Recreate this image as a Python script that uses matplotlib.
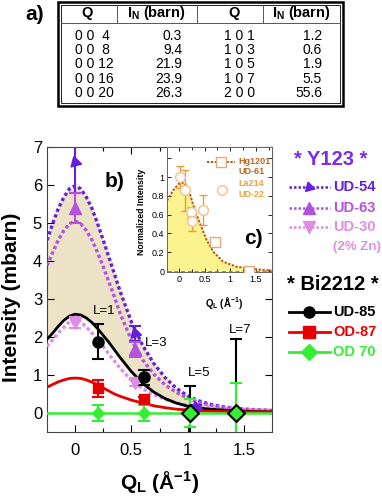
import numpy as np
import matplotlib
matplotlib.use('Agg')
import matplotlib.pyplot as plt
from matplotlib.patches import Rectangle
from matplotlib.lines import Line2D

plt.rcParams['font.family'] = ['Liberation Sans', 'DejaVu Sans']
plt.rcParams['mathtext.fontset'] = 'custom'
plt.rcParams['mathtext.rm'] = 'Liberation Sans'
plt.rcParams['mathtext.bf'] = 'Liberation Sans:bold'
plt.rcParams['mathtext.it'] = 'Liberation Sans:italic'

W, H = 382, 496  # figure size in pixels


def fx(x):
    return x / W


def fy(y):
    return 1 - y / H


# ---- table a) ----
tab_q1 = ['0 0  4', '0 0  8', '0 0 12', '0 0 16', '0 0 20']
tab_i1 = ['0.3', '9.4', '21.9', '23.9', '26.3']
tab_q2 = ['1 0 1', '1 0 3', '1 0 5', '1 0 7', '2 0 0']
tab_i2 = ['1.2', '0.6', '1.9', '5.5', '55.6']

# ---- main panel b): fitted curves ----
q_fit = [-0.25, -0.2, -0.15, -0.1, -0.05, 0.0, 0.05, 0.1, 0.15, 0.2, 0.25, 0.3, 0.35, 0.4,
         0.5, 0.6, 0.7, 0.8, 0.9, 1.0, 1.1, 1.2, 1.3, 1.4, 1.5, 1.6, 1.75]
ud54_fit = [4.55, 4.98, 5.38, 5.68, 5.9, 5.98, 5.9, 5.68, 5.38, 4.98, 4.55, 4.1, 3.65, 3.2,
            2.4, 1.78, 1.3, 0.93, 0.65, 0.45, 0.32, 0.23, 0.17, 0.13, 0.1, 0.08, 0.06]
ud63_fit = [3.88, 4.22, 4.55, 4.8, 4.98, 5.05, 4.98, 4.8, 4.55, 4.22, 3.85, 3.45, 3.05, 2.62,
            1.92, 1.4, 1.02, 0.74, 0.54, 0.39, 0.28, 0.21, 0.16, 0.13, 0.1, 0.09, 0.07]
ud30_fit = [1.75, 1.93, 2.1, 2.26, 2.4, 2.45, 2.4, 2.26, 2.1, 1.93, 1.75, 1.55, 1.36, 1.18,
            0.86, 0.64, 0.48, 0.36, 0.27, 0.2, 0.16, 0.13, 0.11, 0.1, 0.09, 0.08, 0.07]
ud85_fit = [1.94, 2.1, 2.28, 2.44, 2.55, 2.6, 2.58, 2.5, 2.38, 2.22, 2.04, 1.86, 1.66, 1.46,
            1.09, 0.78, 0.55, 0.38, 0.26, 0.18, 0.13, 0.1, 0.08, 0.06, 0.05, 0.04, 0.03]
od87_fit = [0.68, 0.75, 0.82, 0.87, 0.91, 0.92, 0.91, 0.87, 0.81, 0.74, 0.66, 0.58, 0.5, 0.44,
            0.34, 0.26, 0.19, 0.14, 0.1, 0.08, 0.06, 0.05, 0.04, 0.04, 0.03, 0.03, 0.03]
od70_fit_q = [-0.25, 1.75]
od70_fit = [0.0, 0.0]

# ---- main panel b): data points ----
ud54_q = [0.0, 0.53, 1.07]
ud54_i = [6.6, 2.1, 0.17]
ud54_e = [0.8, 0.2, 0.05]
ud63_q = [0.0, 0.53]
ud63_i = [5.4, 1.68]
ud63_e = [0.4, 0.2]
ud30_q = [0.0, 0.53]
ud30_i = [2.38, 0.8]
ud30_e = [0.14, 0.1]
ud85_q = [0.2, 0.61, 1.02, 1.43]
ud85_i = [1.88, 0.94, 0.0, 0.0]
ud85_e = [0.46, 0.2, 0.7, 1.95]
od87_q = [0.2, 0.61]
od87_i = [0.65, 0.36]
od87_e = [0.22, 0.07]
od70_q = [0.2, 0.61, 1.02, 1.43]
od70_i = [0.0, 0.0, 0.0, 0.0]
od70_e = [0.22, 0.2, 0.38, 0.78]
l_labels = ['L=1', 'L=3', 'L=5', 'L=7']
l_label_q = [0.26, 0.72, 1.1, 1.47]
l_label_i = [2.68, 1.85, 1.05, 2.18]

# ---- inset c) ----
hg_fit_q = [-0.23, -0.11, 0.0, 0.06, 0.12, 0.21, 0.31, 0.41, 0.54, 0.67, 0.86, 1.12, 1.51, 1.8]
hg_fit = [0.75, 0.86, 0.93, 0.94, 0.93, 0.83, 0.65, 0.51, 0.33, 0.205, 0.1, 0.046, 0.018, 0.005]
hg_q = [0.7, 1.36]
hg_i = [0.31, 0.0]
la_q = [0.02, 0.12, 0.23, 0.25, 0.46]
la_i = [1.0, 0.86, 0.63, 0.53, 0.65]
la_e = [0.12, 0.22, 0.05, 0.1, 0.16]

c54 = '#6420dc'
c63 = '#b452e0'
c30 = '#e08ce4'
cred = '#e80000'
cgreen = '#33ee33'
dot = (0, (1, 0.8))

fig = plt.figure(figsize=(W / 100, H / 100), dpi=100)

# table
fig.add_artist(Rectangle((fx(58), fy(106)), fx(343) - fx(58), fy(2) - fy(106),
                         transform=fig.transFigure, fill=False, lw=1.8, color='black'))
fig.add_artist(Rectangle((fx(61), fy(103)), fx(340) - fx(61), fy(5) - fy(103),
                         transform=fig.transFigure, fill=False, lw=0.6, color='black'))
fig.add_artist(Line2D([fx(61), fx(340)], [fy(23), fy(23)], transform=fig.transFigure,
                      lw=0.7, color='#555555'))
for xv in [117, 197, 263]:
    fig.add_artist(Line2D([fx(xv), fx(xv)], [fy(5), fy(23)], transform=fig.transFigure,
                          lw=0.7, color='#555555'))
hdr = dict(fontsize=10.5, fontweight='bold', ha='center', va='center')
fig.text(fx(87), fy(13), 'Q', **hdr)
fig.text(fx(156), fy(13), r'I$_\mathbf{N}$ (barn)', **hdr)
fig.text(fx(234), fy(13), 'Q', **hdr)
fig.text(fx(301), fy(13), r'I$_\mathbf{N}$ (barn)', **hdr)
row_y = [36, 50, 64, 79, 93]
for k in range(5):
    fig.text(fx(75), fy(row_y[k]), tab_q1[k], fontsize=10, va='center', ha='left')
    fig.text(fx(182), fy(row_y[k]), tab_i1[k], fontsize=10, va='center', ha='right')
    fig.text(fx(224), fy(row_y[k]), tab_q2[k], fontsize=10, va='center', ha='left')
    fig.text(fx(322), fy(row_y[k]), tab_i2[k], fontsize=10, va='center', ha='right')
fig.text(fx(35), fy(15), 'a)', fontsize=15, fontweight='bold', ha='center', va='center')

# main panel
ax = fig.add_axes([fx(47), fy(432), fx(272) - fx(47), fy(147) - fy(432)])
ax.fill_between(q_fit, ud54_fit, ud85_fit, color='#ece3c6', lw=0, zorder=1)
ax.plot(q_fit, ud54_fit, color=c54, lw=2.4, ls=dot, zorder=3)
ax.plot(q_fit, ud63_fit, color=c63, lw=2.4, ls=dot, zorder=3)
ax.plot(q_fit, ud30_fit, color=c30, lw=2.4, ls=dot, zorder=3)
ax.plot(q_fit, ud85_fit, color='black', lw=2, zorder=3)
ax.plot(q_fit, od87_fit, color=cred, lw=2, zorder=3)
ax.plot(od70_fit_q, od70_fit, color=cgreen, lw=1.8, zorder=3)

eb = dict(fmt='none', elinewidth=1.5, capsize=4, capthick=1.5, zorder=4)
ax.errorbar(ud54_q, ud54_i, yerr=ud54_e, ecolor=c54, **eb)
ax.errorbar(ud63_q, ud63_i, yerr=ud63_e, ecolor=c63, **eb)
ax.errorbar(ud30_q, ud30_i, yerr=ud30_e, ecolor=c30, **eb)
ax.errorbar(ud85_q, ud85_i, yerr=ud85_e, ecolor='black', **eb)
ax.errorbar(od87_q, od87_i, yerr=od87_e, ecolor=cred, **eb)
ax.errorbar(od70_q, od70_i, yerr=od70_e, ecolor=cgreen, **eb)

flag = (3, 0, -105)
ax.plot(ud54_q, ud54_i, ls='none', marker=flag, ms=9, color=c54, zorder=5)
ax.plot(ud63_q, ud63_i, ls='none', marker='^', ms=8, color=c63, zorder=5)
ax.plot(ud30_q, ud30_i, ls='none', marker='v', ms=8, color=c30, zorder=5)
ax.plot(ud85_q[:2], ud85_i[:2], ls='none', marker='o', ms=8, color='black', zorder=5)
ax.plot(ud85_q[2:], ud85_i[2:], ls='none', marker='D', ms=9, color='black', zorder=5)
ax.plot(od87_q, od87_i, ls='none', marker='s', ms=7, color=cred, zorder=5)
ax.plot(od70_q, od70_i, ls='none', marker='D', ms=6.5, color=cgreen, zorder=6)

for lab, lq, li in zip(l_labels, l_label_q, l_label_i):
    ax.text(lq, li, lab, fontsize=9.5, ha='center', va='center', zorder=7)
ax.text(0.35, 6.08, 'b)', fontsize=15, fontweight='bold', ha='center', va='center')

ax.set_xlim(-0.25, 1.75)
ax.set_ylim(-0.5, 7)
ax.set_xticks([0, 0.5, 1, 1.5])
ax.set_xticklabels(['0', '0.5', '1', '1.5'])
ax.set_xticks([0.25, 0.75, 1.25], minor=True)
ax.set_yticks(range(8))
ax.tick_params(direction='in', top=True, right=True, length=5, width=0.8, labelsize=12)
ax.tick_params(axis='x', which='major', pad=8)
ax.tick_params(which='minor', direction='in', top=True, length=3, width=0.8)
for s in ax.spines.values():
    s.set_linewidth(0.8)
    s.set_color('#444444')
fig.text(fx(12), fy(297), 'Intensity (mbarn)', rotation=90, fontsize=15,
         fontweight='bold', ha='center', va='center')
fig.text(fx(160), fy(482), r'Q$_\mathbf{L}$ (Å$^\mathbf{-1}$)', fontsize=15,
         fontweight='bold', ha='center', va='center')

# inset
axin = fig.add_axes([fx(167), fy(272), fx(272) - fx(167), fy(147) - fy(272)])
axin.fill_between(hg_fit_q, hg_fit, 0, color='#fdf38e', lw=0, zorder=1)
axin.axhline(0, color='#888888', lw=0.7, ls=(0, (4, 3)), zorder=2)
axin.plot(hg_fit_q, hg_fit, color='#b5560f', lw=1.4, ls=(0, (1.2, 0.8)), zorder=3)
axin.plot(hg_q, hg_i, ls='none', marker='s', ms=7, mfc='white', mec='#e4aa7a', mew=1, zorder=4)
axin.errorbar(la_q, la_i, yerr=la_e, fmt='none', ecolor='#ec9a40', elinewidth=1,
              capsize=3, capthick=1, zorder=4)
axin.plot(la_q, la_i, ls='none', marker='o', ms=7, mfc='white', mec='#f5c090', mew=1, zorder=5)
axin.set_xlim(-0.23, 1.81)
axin.set_ylim(-0.01, 1.32)
axin.set_xticks([0, 0.5, 1, 1.5])
axin.set_xticklabels(['0', '0.5', '1', '1.5'])
axin.set_xticks([0.25, 0.75, 1.25, 1.75], minor=True)
axin.set_yticks([0, 0.2, 0.4, 0.6, 0.8, 1.0, 1.2])
axin.set_yticklabels(['0', '0.2', '0.4', '0.6', '0.8', '1', ''])
axin.tick_params(direction='in', top=True, right=True, length=3, width=0.6, labelsize=6.5, pad=2)
axin.tick_params(which='minor', direction='in', top=True, length=2, width=0.6)
for s in axin.spines.values():
    s.set_linewidth(0.7)
    s.set_color('#666666')
axin.text(1.44, 0.35, 'c)', fontsize=15, fontweight='bold', ha='center', va='center')
fig.text(fx(142), fy(212), 'Normalized Intensity', rotation=90, fontsize=6.3,
         fontweight='bold', ha='center', va='center')
fig.text(fx(224), fy(303), r'Q$_\mathbf{L}$ (Å$^\mathbf{-1}$)', fontsize=7,
         fontweight='bold', ha='center', va='center')

# inset legend
fig.add_artist(Line2D([fx(207), fx(235)], [fy(162), fy(162)], color='#b5560f', lw=1.4,
                      ls=(0, (1.2, 0.8))))
fig.add_artist(Line2D([fx(221)], [fy(162)], marker='s', ms=7, mfc='white', mec='#e4aa7a',
                      ls='none'))
fig.text(fx(238), fy(162), 'Hg1201', color='#c0661a', fontsize=6.5, fontweight='bold', va='center')
fig.text(fx(238), fy(172), 'UD-61', color='#c0661a', fontsize=6.5, fontweight='bold', va='center')
fig.add_artist(Line2D([fx(222)], [fy(190)], marker='o', ms=7, mfc='white', mec='#f5c090',
                      ls='none'))
fig.text(fx(238), fy(183), 'La214', color='#f0a040', fontsize=6.5, fontweight='bold', va='center')
fig.text(fx(238), fy(195), 'UD-22', color='#f0a040', fontsize=6.5, fontweight='bold', va='center')

# right-hand legend
fig.text(fx(331), fy(160), '* Y123 *', color='#7a2ee0', fontsize=14.5, fontweight='bold',
         ha='center', va='center')
fig.text(fx(333), fy(285), '* Bi2212 *', color='black', fontsize=14.5, fontweight='bold',
         ha='center', va='center')
rows = [(187, c54, dot, flag, 'UD-54'), (208, c63, dot, '^', 'UD-63'),
        (227, c30, dot, 'v', 'UD-30'), (312, 'black', '-', 'o', 'UD-85'),
        (332, cred, '-', 's', 'OD-87'), (352, cgreen, '-', 'D', 'OD 70')]
for y, col, ls, mk, lab in rows:
    fig.add_artist(Line2D([fx(289), fx(330)], [fy(y), fy(y)], color=col, ls=ls,
                          lw=2 if ls == '-' else 1.8))
    fig.add_artist(Line2D([fx(309)], [fy(y)], marker=mk, ms=8, color=col, ls='none'))
    fig.text(fx(333), fy(y), lab, color=col, fontsize=10.5, fontweight='bold', va='center')
fig.text(fx(333), fy(247), '(2% Zn)', color=c30, fontsize=9.5, fontweight='bold', va='center')

fig.savefig('out.png', dpi=100)
